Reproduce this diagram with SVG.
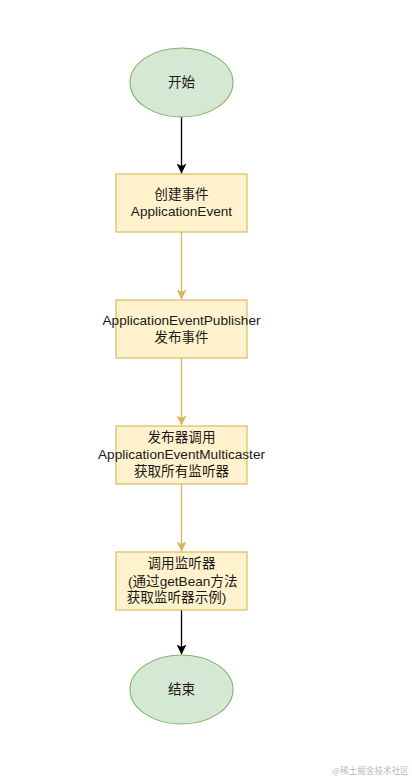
<svg xmlns="http://www.w3.org/2000/svg" width="412" height="778" viewBox="0 0 412 778">
<style>
.bg{fill:#ffffff}
.term{fill:#d5e8d4;stroke:#82b366;stroke-width:1.1}
.proc{fill:#fff2cc;stroke:#d6b656;stroke-width:1.1}
.t{font-family:"Liberation Sans","Noto Sans CJK SC",sans-serif;font-size:13.6px;fill:#1a1a1a}
.c{text-anchor:middle}
.edge-k{stroke:#000000;stroke-width:1.3;fill:none}
.edge-y{stroke:#d6b656;stroke-width:1.3;fill:none}
.wm{font-family:"Noto Sans CJK SC",sans-serif;font-size:8.6px;fill:#b8b8b8}
</style>
<defs>
<marker id="ak" markerWidth="10" markerHeight="10" viewBox="0 0 10 10" refX="10" refY="5" orient="auto" markerUnits="userSpaceOnUse">
<path d="M0,0 L10,5 L0,10 L2.5,5 Z" fill="#000000"/>
</marker>
<marker id="ay" markerWidth="10" markerHeight="10" viewBox="0 0 10 10" refX="10" refY="5" orient="auto" markerUnits="userSpaceOnUse">
<path d="M0,0 L10,5 L0,10 L2.5,5 Z" fill="#d6b656"/>
</marker>
</defs>
<rect class="bg" x="0" y="0" width="412" height="778"/>
<g id="connectors">
<line class="edge-k" x1="181.5" y1="117" x2="181.5" y2="173.5" marker-end="url(#ak)"/>
<line class="edge-y" x1="181.5" y1="232" x2="181.5" y2="299.5" marker-end="url(#ay)"/>
<line class="edge-y" x1="181.5" y1="358" x2="181.5" y2="425.5" marker-end="url(#ay)"/>
<line class="edge-y" x1="181.5" y1="484" x2="181.5" y2="551.5" marker-end="url(#ay)"/>
<line class="edge-k" x1="181.5" y1="610" x2="181.5" y2="654.5" marker-end="url(#ak)"/>
</g>
<g id="start">
<ellipse class="term" cx="181.5" cy="82.5" rx="51.5" ry="34.5"/>
<text class="t c" x="181.5" y="86.5">开始</text>
</g>
<g id="create">
<rect class="proc" x="116" y="174" width="131" height="58"/>
<text class="t c" x="181.5" y="199">创建事件</text>
<text class="t c" x="181.5" y="215.5">ApplicationEvent</text>
</g>
<g id="publish">
<rect class="proc" x="116" y="300" width="131" height="58"/>
<text class="t c" x="181.5" y="325">ApplicationEventPublisher</text>
<text class="t c" x="181.5" y="341.5">发布事件</text>
</g>
<g id="multicast">
<rect class="proc" x="116" y="426" width="131" height="58"/>
<text class="t c" x="181.5" y="441.5">发布器调用</text>
<text class="t c" x="181.5" y="458.8">ApplicationEventMulticaster</text>
<text class="t c" x="181.5" y="475.8">获取所有监听器</text>
</g>
<g id="invoke">
<rect class="proc" x="116" y="552" width="131" height="58"/>
<text class="t c" x="181.5" y="568">调用监听器</text>
<text class="t" x="128" y="585.5">(通过getBean方法</text>
<text class="t" x="126.7" y="602">获取监听器示例)</text>
</g>
<g id="end">
<ellipse class="term" cx="181.5" cy="689.5" rx="51.5" ry="34.5"/>
<text class="t c" x="181.5" y="694">结束</text>
</g>
<text class="wm" x="332" y="774">@稀土掘金技术社区</text>
</svg>
